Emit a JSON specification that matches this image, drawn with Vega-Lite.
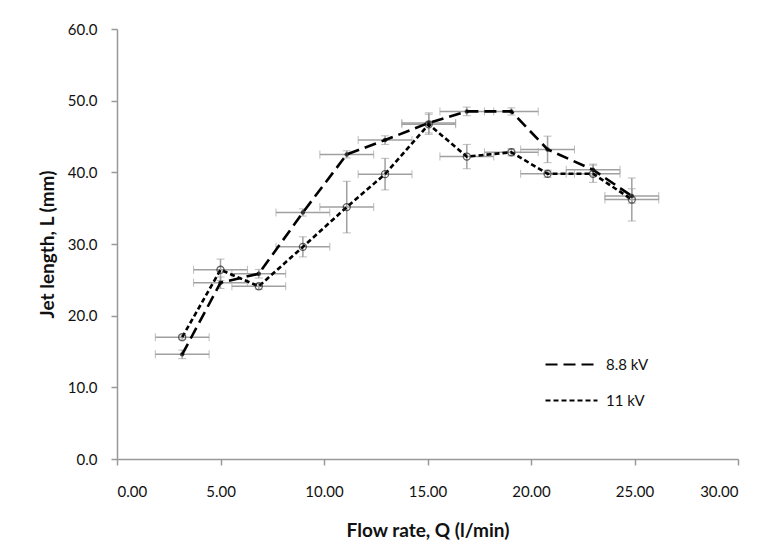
{
  "$schema": "https://vega.github.io/schema/vega-lite/v6.json",
  "width": 621,
  "height": 430,
  "autosize": {"type": "none"},
  "padding": {"left": 117, "top": 29, "right": 25, "bottom": 98},
  "background": "white",
  "config": {
    "view": {"stroke": null},
    "font": "Lato",
    "axis": {"grid": false, "domainColor": "#999999", "tickColor": "#999999", "domainWidth": 1.5, "tickWidth": 1.5, "labelFont": "Lato", "labelFontSize": 15, "labelColor": "#111111", "titleFont": "Lato", "titleFontSize": 19, "titleFontWeight": "bold", "titleColor": "#111111"}
  },
  "data": {
    "values": [
      {"series": "8.8 kV", "q": 3.15, "L": 14.6, "qerr": 1.3, "Lerr": 0.6},
      {"series": "8.8 kV", "q": 5.0, "L": 24.6, "qerr": 1.3, "Lerr": 0.8},
      {"series": "8.8 kV", "q": 6.85, "L": 25.85, "qerr": 1.3, "Lerr": 0.6},
      {"series": "8.8 kV", "q": 8.98, "L": 34.4, "qerr": 1.3, "Lerr": 0.5},
      {"series": "8.8 kV", "q": 11.1, "L": 42.5, "qerr": 1.3, "Lerr": 0.5},
      {"series": "8.8 kV", "q": 12.95, "L": 44.5, "qerr": 1.3, "Lerr": 0.6},
      {"series": "8.8 kV", "q": 15.06, "L": 46.9, "qerr": 1.3, "Lerr": 1.4},
      {"series": "8.8 kV", "q": 16.9, "L": 48.5, "qerr": 1.3, "Lerr": 0.6},
      {"series": "8.8 kV", "q": 19.05, "L": 48.5, "qerr": 1.3, "Lerr": 0.5},
      {"series": "8.8 kV", "q": 20.8, "L": 43.2, "qerr": 1.3, "Lerr": 1.85},
      {"series": "8.8 kV", "q": 23.0, "L": 40.35, "qerr": 1.3, "Lerr": 0.8},
      {"series": "8.8 kV", "q": 24.87, "L": 36.7, "qerr": 1.3, "Lerr": 1.0},
      {"series": "11 kV", "q": 3.15, "L": 17.0, "qerr": 1.3, "Lerr": 0.3},
      {"series": "11 kV", "q": 5.0, "L": 26.4, "qerr": 1.3, "Lerr": 1.5},
      {"series": "11 kV", "q": 6.85, "L": 24.1, "qerr": 1.3, "Lerr": 0.4},
      {"series": "11 kV", "q": 8.98, "L": 29.6, "qerr": 1.3, "Lerr": 1.4},
      {"series": "11 kV", "q": 11.1, "L": 35.15, "qerr": 1.3, "Lerr": 3.6},
      {"series": "11 kV", "q": 12.95, "L": 39.75, "qerr": 1.3, "Lerr": 2.2},
      {"series": "11 kV", "q": 15.06, "L": 46.7, "qerr": 1.3, "Lerr": 1.4},
      {"series": "11 kV", "q": 16.9, "L": 42.2, "qerr": 1.3, "Lerr": 1.7},
      {"series": "11 kV", "q": 19.05, "L": 42.8, "qerr": 1.3, "Lerr": 0.5},
      {"series": "11 kV", "q": 20.8, "L": 39.8, "qerr": 1.3, "Lerr": 0.5},
      {"series": "11 kV", "q": 23.0, "L": 39.8, "qerr": 1.3, "Lerr": 1.2},
      {"series": "11 kV", "q": 24.87, "L": 36.2, "qerr": 1.3, "Lerr": 3.0}
    ]
  },
  "encoding": {
    "x": {"field": "q", "type": "quantitative", "scale": {"domain": [0, 30], "nice": false}, "axis": {"title": "Flow rate, Q (l/min)", "values": [0, 5, 10, 15, 20, 25, 30], "format": ".2f", "tickSize": 6, "labelPadding": 19, "titlePadding": 22}},
    "y": {"field": "L", "type": "quantitative", "scale": {"domain": [0, 60], "nice": false}, "axis": {"title": "Jet length, L (mm)", "values": [0, 10, 20, 30, 40, 50, 60], "format": ".1f", "tickSize": 6, "labelPadding": 14, "titlePadding": 10}}
  },
  "layer": [
    {
      "mark": {"type": "errorbar", "ticks": {"size": 8, "color": "#a0a0a0", "strokeWidth": 1.5}, "rule": {"color": "#a0a0a0", "strokeWidth": 1.5}},
      "encoding": {"xError": {"field": "qerr"}, "detail": {"field": "series"}}
    },
    {
      "mark": {"type": "errorbar", "ticks": {"size": 8, "color": "#a0a0a0", "strokeWidth": 1.5}, "rule": {"color": "#a0a0a0", "strokeWidth": 1.5}},
      "encoding": {"yError": {"field": "Lerr"}, "detail": {"field": "series"}}
    },
    {
      "mark": {"type": "line", "color": "black", "strokeWidth": 2.6},
      "encoding": {
        "detail": {"field": "series"},
        "strokeDash": {"field": "series", "type": "nominal", "scale": {"domain": ["8.8 kV", "11 kV"], "range": [[12, 6], [5, 3]]},
          "legend": {"title": null, "orient": "none", "legendX": 427, "legendY": 308, "symbolType": "stroke", "symbolSize": 2700, "symbolStrokeWidth": 2.2, "symbolStrokeColor": "black", "labelFontSize": 15, "labelFont": "Lato", "labelColor": "#111111", "rowPadding": 0, "labelOffset": 7}}
      }
    },
    {
      "transform": [{"filter": "datum.series === '8.8 kV'"}],
      "mark": {"type": "point", "shape": "circle", "filled": true, "color": "black", "size": 20}
    },
    {
      "transform": [{"filter": "datum.series === '11 kV'"}],
      "mark": {"type": "point", "shape": "circle", "filled": false, "stroke": "#222222", "strokeWidth": 1.3, "size": 50}
    }
  ]
}
